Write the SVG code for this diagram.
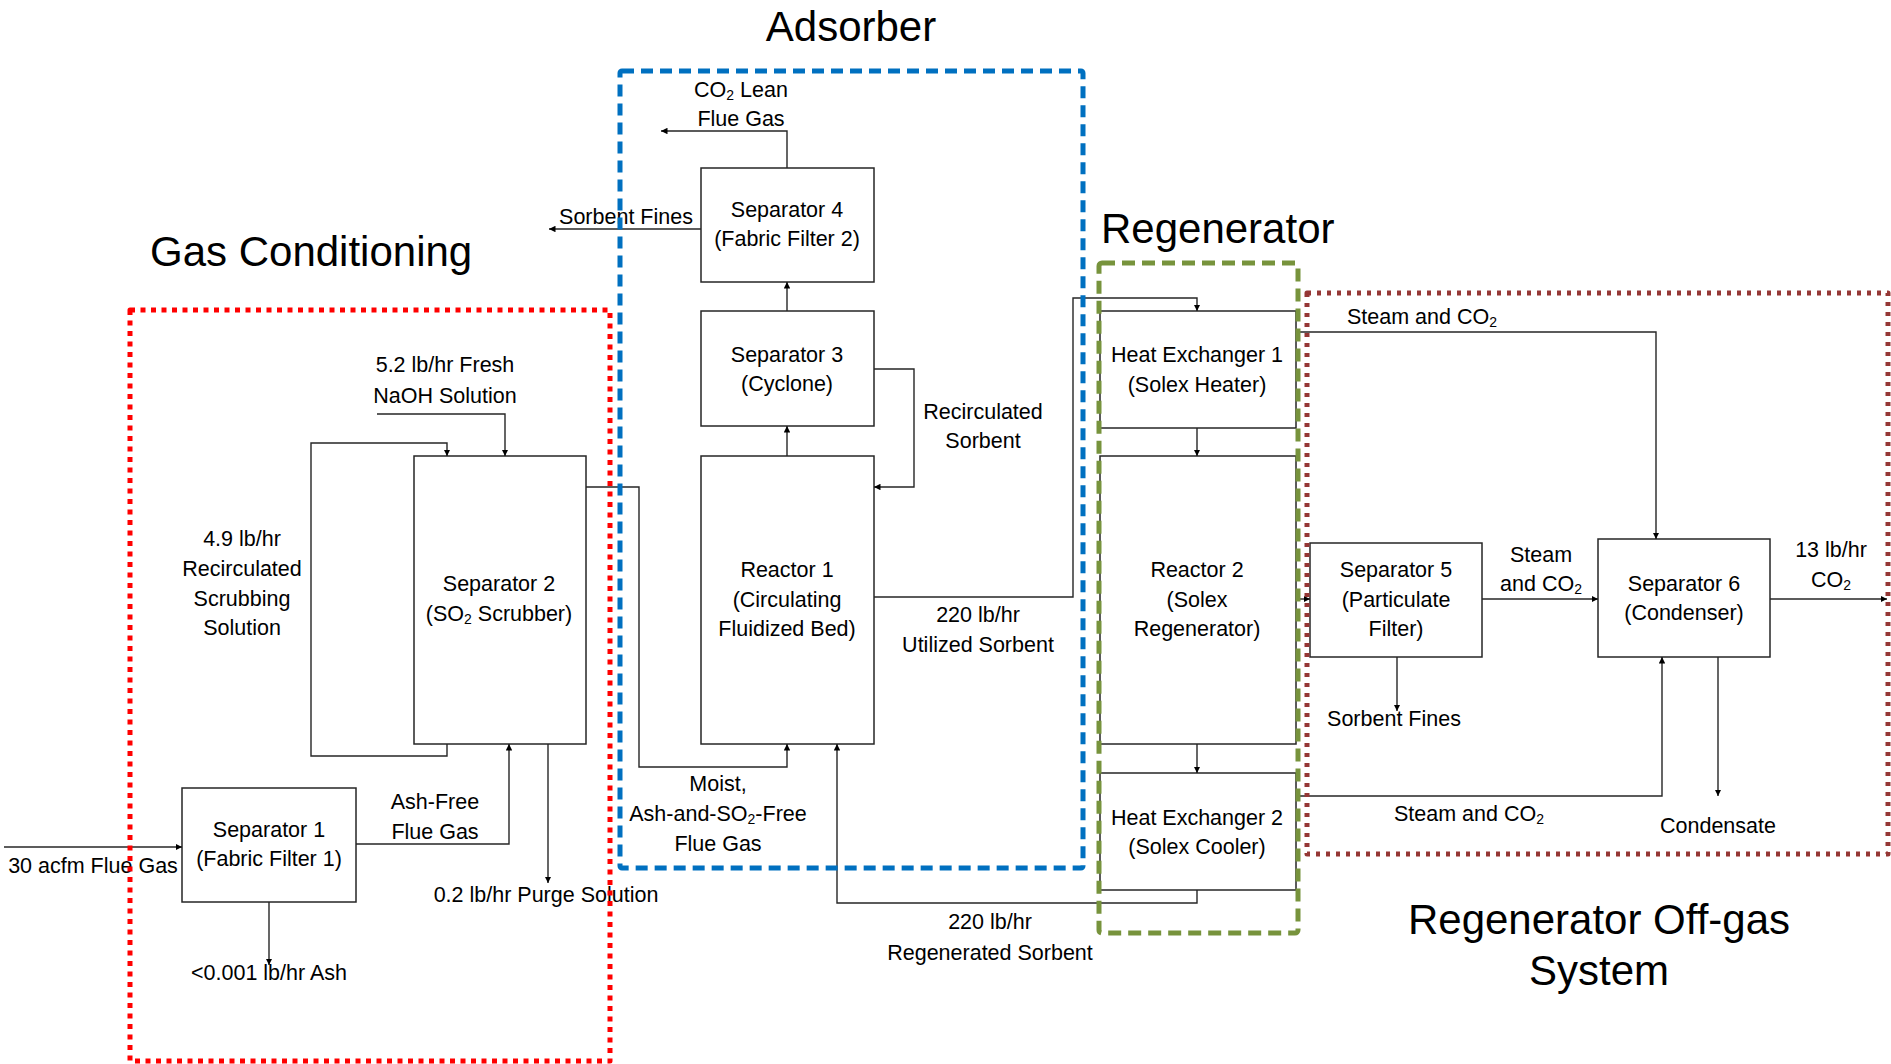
<svg xmlns="http://www.w3.org/2000/svg" width="1891" height="1064" viewBox="0 0 1891 1064">
  <style>
    .box { fill: #ffffff; stroke: #262626; stroke-width: 1.5; }
    .lbl { font-family: "Liberation Sans", Arial, sans-serif; font-size: 21.5px; fill: #000; text-anchor: middle; }
    .ttl { font-family: "Liberation Sans", Arial, sans-serif; font-size: 42px; fill: #000; }
    .flow { fill: none; stroke: #262626; stroke-width: 1.4; marker-end: url(#ah); }
    .zone { fill: none; stroke-width: 5; stroke-linejoin: round; }
    .sub { font-size: 65%; }
  </style>
  <defs>
    <marker id="ah" viewBox="0 0 10 10" refX="10" refY="5" markerWidth="6.5" markerHeight="6.5" markerUnits="userSpaceOnUse" orient="auto">
      <path d="M0,0 L10,5 L0,10 z" fill="#000"/>
    </marker>
  </defs>
  <rect width="1891" height="1064" fill="#ffffff"/>

  <!-- section titles -->
  <text class="ttl" x="851" y="41" text-anchor="middle">Adsorber</text>
  <text class="ttl" x="150" y="266">Gas Conditioning</text>
  <text class="ttl" x="1101" y="243">Regenerator</text>
  <text class="ttl" x="1599" y="934" text-anchor="middle">Regenerator Off-gas</text>
  <text class="ttl" x="1599" y="985" text-anchor="middle">System</text>

  <!-- process nodes -->
  <g id="separator1"><rect class="box" x="182" y="788" width="174" height="114"/>
    <text class="lbl" x="269" y="837">Separator 1</text><text class="lbl" x="269" y="866">(Fabric Filter 1)</text></g>
  <g id="separator2"><rect class="box" x="414" y="456" width="172" height="288"/>
    <text class="lbl" x="499" y="591">Separator 2</text><text class="lbl" x="499" y="621">(SO<tspan class="sub" baseline-shift="-18%">2</tspan> Scrubber)</text></g>
  <g id="reactor1"><rect class="box" x="701" y="456" width="173" height="288"/>
    <text class="lbl" x="787" y="577">Reactor 1</text><text class="lbl" x="787" y="607">(Circulating</text><text class="lbl" x="787" y="636">Fluidized Bed)</text></g>
  <g id="separator3"><rect class="box" x="701" y="311" width="173" height="115"/>
    <text class="lbl" x="787" y="362">Separator 3</text><text class="lbl" x="787" y="391">(Cyclone)</text></g>
  <g id="separator4"><rect class="box" x="701" y="168" width="173" height="114"/>
    <text class="lbl" x="787" y="217">Separator 4</text><text class="lbl" x="787" y="246">(Fabric Filter 2)</text></g>
  <g id="heat-exchanger1"><rect class="box" x="1100" y="311" width="196" height="117"/>
    <text class="lbl" x="1197" y="362">Heat Exchanger 1</text><text class="lbl" x="1197" y="392">(Solex Heater)</text></g>
  <g id="reactor2"><rect class="box" x="1100" y="456" width="196" height="288"/>
    <text class="lbl" x="1197" y="577">Reactor 2</text><text class="lbl" x="1197" y="607">(Solex</text><text class="lbl" x="1197" y="636">Regenerator)</text></g>
  <g id="heat-exchanger2"><rect class="box" x="1100" y="773" width="196" height="117"/>
    <text class="lbl" x="1197" y="825">Heat Exchanger 2</text><text class="lbl" x="1197" y="854">(Solex Cooler)</text></g>
  <g id="separator5"><rect class="box" x="1310" y="543" width="172" height="114"/>
    <text class="lbl" x="1396" y="577">Separator 5</text><text class="lbl" x="1396" y="607">(Particulate</text><text class="lbl" x="1396" y="636">Filter)</text></g>
  <g id="separator6"><rect class="box" x="1598" y="539" width="172" height="118"/>
    <text class="lbl" x="1684" y="591">Separator 6</text><text class="lbl" x="1684" y="620">(Condenser)</text></g>

  <!-- stream connectors -->
  <g id="connectors">
    <path class="flow" d="M4,847 H182"/>
    <path class="flow" d="M356,844 H509 V744"/>
    <path class="flow" d="M269,902 V965"/>
    <path class="flow" d="M548,744 V883"/>
    <path class="flow" d="M447,744 V756 H311 V443 H447 V456"/>
    <path class="flow" d="M377,414 H505 V456"/>
    <path class="flow" d="M586,487 H639 V767 H787 V744"/>
    <path class="flow" d="M787,456 V426"/>
    <path class="flow" d="M787,311 V282"/>
    <path class="flow" d="M874,369 H914 V487 H874"/>
    <path class="flow" d="M701,229 H549"/>
    <path class="flow" d="M787,168 V131 H661"/>
    <path class="flow" d="M874,597 H1073 V298 H1197 V311"/>
    <path class="flow" d="M1197,428 V456"/>
    <path class="flow" d="M1197,744 V773"/>
    <path class="flow" d="M1197,890 V903 H837 V744"/>
    <path class="flow" d="M1296,332 H1656 V539"/>
    <path class="flow" d="M1296,599 H1310"/>
    <path class="flow" d="M1482,599 H1598"/>
    <path class="flow" d="M1397,657 V711"/>
    <path class="flow" d="M1296,796 H1662 V657"/>
    <path class="flow" d="M1718,657 V796"/>
    <path class="flow" d="M1770,599 H1887"/>
  </g>

  <!-- stream labels -->
  <g id="stream-labels">
    <text class="lbl" x="445" y="372">5.2 lb/hr Fresh</text>
    <text class="lbl" x="445" y="403">NaOH Solution</text>
    <text class="lbl" x="242" y="546">4.9 lb/hr</text>
    <text class="lbl" x="242" y="576">Recirculated</text>
    <text class="lbl" x="242" y="606">Scrubbing</text>
    <text class="lbl" x="242" y="635">Solution</text>
    <text class="lbl" x="435" y="809">Ash-Free</text>
    <text class="lbl" x="435" y="839">Flue Gas</text>
    <text class="lbl" x="93" y="873">30 acfm Flue Gas</text>
    <text class="lbl" x="269" y="980">&lt;0.001 lb/hr Ash</text>
    <text class="lbl" x="546" y="902">0.2 lb/hr Purge Solution</text>
    <text class="lbl" x="718" y="791">Moist,</text>
    <text class="lbl" x="718" y="821">Ash-and-SO<tspan class="sub" baseline-shift="-18%">2</tspan>-Free</text>
    <text class="lbl" x="718" y="851">Flue Gas</text>
    <text class="lbl" x="983" y="419">Recirculated</text>
    <text class="lbl" x="983" y="448">Sorbent</text>
    <text class="lbl" x="978" y="622">220 lb/hr</text>
    <text class="lbl" x="978" y="652">Utilized Sorbent</text>
    <text class="lbl" x="990" y="929">220 lb/hr</text>
    <text class="lbl" x="990" y="960">Regenerated Sorbent</text>
    <text class="lbl" x="741" y="97">CO<tspan class="sub" baseline-shift="-18%">2</tspan> Lean</text>
    <text class="lbl" x="741" y="126">Flue Gas</text>
    <text class="lbl" x="626" y="224">Sorbent Fines</text>
    <text class="lbl" x="1422" y="324">Steam and CO<tspan class="sub" baseline-shift="-18%">2</tspan></text>
    <text class="lbl" x="1541" y="562">Steam</text>
    <text class="lbl" x="1541" y="591">and CO<tspan class="sub" baseline-shift="-18%">2</tspan></text>
    <text class="lbl" x="1394" y="726">Sorbent Fines</text>
    <text class="lbl" x="1469" y="821">Steam and CO<tspan class="sub" baseline-shift="-18%">2</tspan></text>
    <text class="lbl" x="1718" y="833">Condensate</text>
    <text class="lbl" x="1831" y="557">13 lb/hr</text>
    <text class="lbl" x="1831" y="587">CO<tspan class="sub" baseline-shift="-18%">2</tspan></text>
  </g>

  <!-- section boundaries -->
  <g id="zones">
    <rect class="zone" x="130" y="310" width="480" height="751" stroke="#ff0000" stroke-dasharray="5 5.5"/>
    <rect class="zone" x="620" y="71" width="463" height="797" rx="2" stroke="#0070c0" stroke-dasharray="12 7"/>
    <rect class="zone" x="1099" y="263" width="199" height="670" rx="3" stroke="#77933c" stroke-dasharray="13 7"/>
    <rect class="zone" x="1307" y="293" width="581" height="561" stroke="#953735" stroke-width="4" stroke-dasharray="4 6"/>
  </g>
</svg>
